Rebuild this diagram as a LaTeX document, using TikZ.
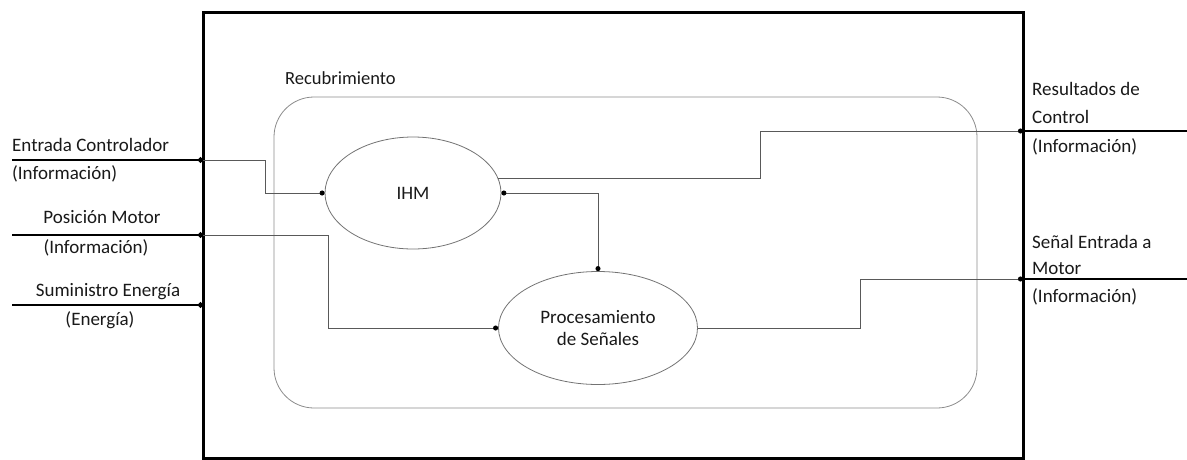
\documentclass[tikz,border=0pt]{standalone}
\usepackage{fontspec}
\setmainfont{Carlito}
\usetikzlibrary{shapes.geometric,arrows.meta}
\begin{document}
\begin{tikzpicture}[x=1pt,y=-1pt,
  thick line/.style={line width=2.8pt,black},
  thin line/.style={line width=0.9pt,black!65},
  dot/.style={-{Circle[length=5pt,width=5pt,black]}},
  lbl/.style={inner sep=0pt,font=\fontsize{19}{22}\selectfont,text=black!90},
  proc/.style={draw=black!55,line width=0.8pt,ellipse,inner sep=0pt,align=center,font=\fontsize{19}{22}\selectfont,text=black!90}
]
\useasboundingbox (0,0) rectangle (1187,459);
% outer box
\node[draw,line width=3pt,minimum width=820pt,minimum height=446pt,inner sep=0pt] (box) at (613,235) {};
% overlay
\node[draw=black!45,line width=0.8pt,rounded corners=40pt,minimum width=703pt,minimum height=311pt,inner sep=0pt] (rec) at (625.5,252.5) {};
\node[lbl,anchor=west,font=\fontsize{18.5}{20}\selectfont] (recl) at (285,78) {Recubrimiento};
% processes
\node[proc,minimum width=176pt,minimum height=112pt] (ihm) at (413,193) {IHM};
\node[proc,minimum width=199pt,minimum height=113pt] (pro) at (598,328) {Procesamiento\\de Señales};
% ports
\coordinate (inA) at (12,160);  \coordinate (pA) at (203,160);
\coordinate (inB) at (12,235);  \coordinate (pB) at (203,235);
\coordinate (inC) at (12,305);  \coordinate (pC) at (203,305);
\coordinate (oA) at (1023,131); \coordinate (endA) at (1192,131);
\coordinate (oB) at (1023,279); \coordinate (endB) at (1192,279);
\coordinate (kA) at (265,160);
\coordinate (kB) at (328,235);
\coordinate (kC) at (760,131);
\coordinate (kD) at (860,279);
% external lines
\draw[thick line,dot] (inA) -- (pA);
\draw[thick line,dot] (inB) -- (pB);
\draw[thick line,dot] (inC) -- (pC);
\draw[thick line,dot] (oA) -- (endA);
\draw[thick line,dot] (oB) -- (endB);
% internal flows
\draw[thin line,dot] (pA) -- (kA) |- (ihm.west);
\draw[thin line,dot] (pB) -- (kB) |- (pro.west);
\draw[thin line,dot] (ihm.10) -| (kC) -- (oA);
\draw[thin line,dot] (pro.east) -| (kD) -- (oB);
\draw[thin line,{Circle[length=5pt,width=5pt,black]}-{Circle[length=5pt,width=5pt,black]}] (ihm.east) -| (pro.north);
% labels
\node[lbl,anchor=west] (l1) at (12,145) {Entrada Controlador};
\node[lbl,anchor=west] (l2) at (12,174) {(Información)};
\node[lbl] (l3) at (102,217) {Posición Motor};
\node[lbl] (l4) at (96,248) {(Información)};
\node[lbl] (l5) at (108,292) {Suministro Energía};
\node[lbl] (l6) at (100,320) {(Energía)};
\node[lbl,anchor=west] (r1) at (1032,89) {Resultados de};
\node[lbl,anchor=west] (r2) at (1032,117) {Control};
\node[lbl,anchor=west] (r3) at (1032,147) {(Información)};
\node[lbl,anchor=west] (r4) at (1032,242) {Señal Entrada a};
\node[lbl,anchor=west] (r5) at (1032,268) {Motor};
\node[lbl,anchor=west] (r6) at (1032,297) {(Información)};
\end{tikzpicture}
\end{document}
